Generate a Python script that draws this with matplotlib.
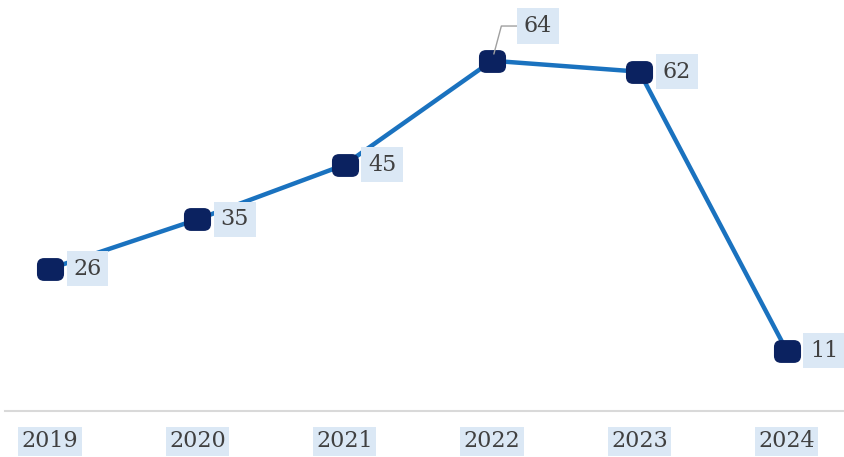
import matplotlib
matplotlib.use("Agg")
import matplotlib.pyplot as plt
import matplotlib.patches as mpatches

years = ["2019", "2020", "2021", "2022", "2023", "2024"]
values = [26, 35, 45, 64, 62, 11]

plt.rcParams['font.family'] = ['DejaVu Serif', 'Liberation Serif']

fig = plt.figure(figsize=(8.45, 4.57), dpi=100)
ax = fig.add_axes([5/845, (457-411)/457, 840/845, 411/457])

x = list(range(len(years)))
marker_path = mpatches.BoxStyle.Round(pad=0, rounding_size=0.3)(-0.6, -0.5, 1.2, 1.0, 1.0)
ax.plot(x, values, color="#1a72bf", lw=3.2, zorder=2)
ax.plot(x, values, linestyle="none", marker=marker_path, markersize=18.5,
        markerfacecolor="#0b2260", markeredgecolor="#0b2260", zorder=3)

bbox = dict(boxstyle="square,pad=0.3", fc="#dbe8f5", ec="none")
for i, (xi, v) in enumerate(zip(x, values)):
    if v == max(values):
        ax.annotate(str(v), xy=(xi, v), xytext=(33, 25), textcoords="offset points",
                    ha="center", va="center", fontsize=16, color="#404040", bbox=bbox,
                    arrowprops=dict(arrowstyle="-", color="#a0a0a0", lw=1,
                                    connectionstyle="angle,angleA=0,angleB=75,rad=0",
                                    shrinkA=0, shrinkB=5))
    else:
        ax.annotate(str(v), xy=(xi, v), xytext=(27, 0), textcoords="offset points",
                    ha="center", va="center", fontsize=16, color="#404040", bbox=bbox)

ax.set_xlim(-0.305, 5.395)
ax.set_ylim(0, 75.1)
ax.set_xticks(x)
ax.set_xticklabels(years, fontsize=16, color="#404040")
for lbl in ax.get_xticklabels():
    lbl.set_bbox(dict(boxstyle="square,pad=0.15", fc="#dbe8f5", ec="none"))
ax.tick_params(axis="x", length=0, pad=14)
ax.set_yticks([])
for s in ["top", "left", "right"]:
    ax.spines[s].set_visible(False)
ax.spines["bottom"].set_color("#d9d9d9")
ax.spines["bottom"].set_linewidth(1.5)

fig.savefig("out.png", dpi=100)
